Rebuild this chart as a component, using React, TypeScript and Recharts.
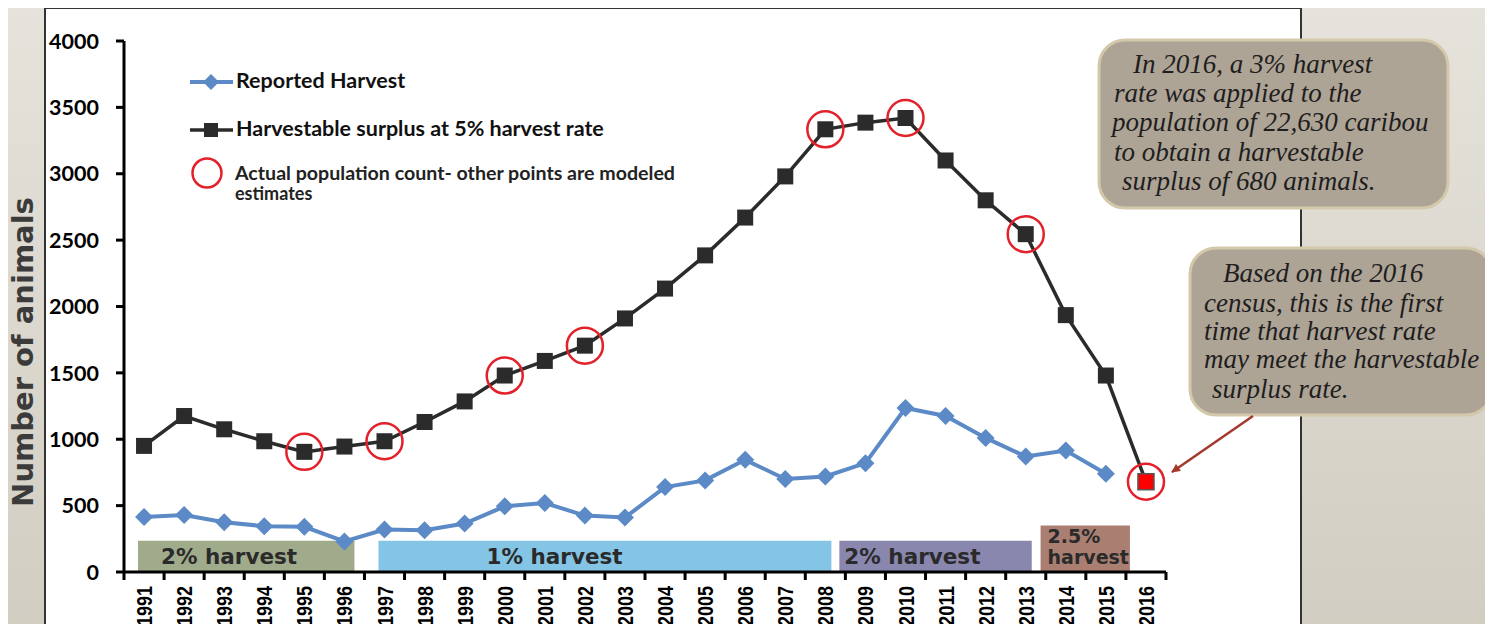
import React from "react";
import { LineChart, Line, XAxis, YAxis, ReferenceArea } from "recharts";

const years = [
  1991, 1992, 1993, 1994, 1995, 1996, 1997, 1998, 1999, 2000, 2001, 2002, 2003,
  2004, 2005, 2006, 2007, 2008, 2009, 2010, 2011, 2012, 2013, 2014, 2015, 2016,
];
const reportedHarvest = [
  415, 430, 375, 345, 340, 230, 320, 315, 365, 495, 520, 425, 410,
  640, 690, 845, 700, 720, 820, 1235, 1175, 1010, 870, 915, 740, null,
];
const harvestableSurplus = [
  950, 1175, 1075, 985, 905, 945, 985, 1130, 1285, 1480, 1590, 1705, 1910,
  2135, 2385, 2670, 2980, 3335, 3385, 3420, 3100, 2800, 2545, 1935, 1480, 680,
];
// years with an actual population count (red circles)
const censusYears = [1995, 1997, 2000, 2002, 2008, 2010, 2013, 2016];
const yTicks = [0, 500, 1000, 1500, 2000, 2500, 3000, 3500, 4000];

// harvest rate periods drawn along the bottom
const bandFrom = [1990.85, 1996.85, 2008.35, 2013.37];
const bandTo = [1996.25, 2008.15, 2013.15, 2015.6];
const bandTop = [235, 235, 235, 350];
const bandLabels = [["2% harvest"], ["1% harvest"], ["2% harvest"], ["2.5%", "harvest"]];

const BAND_COLORS = ["#a0ab8c", "#84c4e4", "#8987ae", "#aa7f72"];
const BAND_DX = [23, 108, 5, 7];
const BAND_FONT = [21.5, 21.5, 21.5, 19];

const data = years.map((year, i) => ({
  year,
  harvest: reportedHarvest[i],
  surplus: harvestableSurplus[i],
  census: censusYears.includes(year) ? harvestableSurplus[i] : null,
}));

// labels sit on whole years, tick marks between them
const xTicks = [...years.flatMap((y) => [y - 0.5, y]), years[years.length - 1] + 0.5];

const BLUE = "#5b8ac6";
const DARK = "#2b2b2b";
const RED = "#e3212b";

function XTick(props: any) {
  const { x, y, payload } = props;
  const v = payload.value;
  if (v % 1 !== 0) {
    return <line x1={x} x2={x} y1={y} y2={y + 8} stroke="#000" strokeWidth={3} />;
  }
  const tx = x + 8;
  const ty = y + 14;
  return (
    <text
      x={tx}
      y={ty}
      transform={`rotate(-90 ${tx} ${ty})`}
      textAnchor="end"
      fontFamily="'Liberation Sans', Arial, sans-serif"
      fontWeight="bold"
      fontSize={22}
      textLength={40}
      lengthAdjust="spacingAndGlyphs"
      fill="#000"
    >
      {v}
    </text>
  );
}

function DiamondDot(props: any) {
  const { cx, cy, index } = props;
  if (cx == null || cy == null) return <g key={`d${index}`} />;
  return (
    <polygon
      key={`d${index}`}
      points={`${cx},${cy - 9} ${cx + 9},${cy} ${cx},${cy + 9} ${cx - 9},${cy}`}
      fill={BLUE}
    />
  );
}

function SquareDot(props: any) {
  const { cx, cy, index, payload } = props;
  if (cx == null || cy == null) return <g key={`s${index}`} />;
  const last = payload.year === 2016;
  return (
    <rect
      key={`s${index}`}
      x={cx - 8}
      y={cy - 8}
      width={16}
      height={16}
      fill={last ? "#ff0000" : DARK}
      stroke={last ? "#555" : "none"}
      strokeWidth={1.5}
    />
  );
}

function CensusDot(props: any) {
  const { cx, cy, index } = props;
  if (cx == null || cy == null) return <g key={`c${index}`} />;
  return <circle key={`c${index}`} cx={cx} cy={cy} r={18} fill="none" stroke={RED} strokeWidth={2.5} />;
}

function BandLabel(props: any) {
  const { viewBox, lines, dx, size } = props;
  const bottom = viewBox.y + viewBox.height;
  return (
    <text
      fontFamily="'DejaVu Sans', Verdana, sans-serif"
      fontWeight="bold"
      fontSize={size}
      fill="#2a2a2a"
    >
      {lines.map((l: string, i: number) => (
        <tspan key={l} x={viewBox.x + dx} y={bottom - 8 - (lines.length - 1 - i) * 21}>
          {l}
        </tspan>
      ))}
    </text>
  );
}

const serif = "'Liberation Serif', 'Times New Roman', serif";
const legendFont = "Lato, 'Open Sans', sans-serif";

export default function App() {
  return (
    <div
      style={{
        margin: -8,
        width: 1493,
        height: 632,
        position: "relative",
        overflow: "hidden",
        background: "linear-gradient(#e6e3dc, #d1cdc1)",
      }}
    >
      <div
        style={{
          position: "absolute",
          left: 44,
          top: 7,
          width: 1258,
          height: 660,
          background: "#fff",
          border: "2px solid #333",
          boxSizing: "border-box",
        }}
      />
      <LineChart
        width={1493}
        height={632}
        data={data}
        margin={{ top: 41, right: 327, bottom: 0, left: 0 }}
        style={{ position: "absolute", left: 0, top: 0 }}
      >
        <XAxis
          dataKey="year"
          type="number"
          domain={[1990.5, 2016.5]}
          ticks={xTicks}
          interval={0}
          height={60}
          tickSize={0}
          tickMargin={0}
          tickLine={false}
          axisLine={{ stroke: "#000", strokeWidth: 3 }}
          tick={<XTick />}
        />
        <YAxis
          type="number"
          domain={[0, 4000]}
          ticks={yTicks}
          interval={0}
          width={124}
          tickSize={8}
          tickMargin={17}
          axisLine={{ stroke: "#000", strokeWidth: 3 }}
          tickLine={{ stroke: "#000", strokeWidth: 3 }}
          tick={{ fill: "#000", fontFamily: legendFont, fontWeight: "bold", fontSize: 21.5 }}
        />
        <Line
          dataKey="harvest"
          type="linear"
          stroke={BLUE}
          strokeWidth={4}
          dot={<DiamondDot />}
          activeDot={false}
          isAnimationActive={false}
        />
        <Line
          dataKey="surplus"
          type="linear"
          stroke={DARK}
          strokeWidth={3.5}
          dot={<SquareDot />}
          activeDot={false}
          isAnimationActive={false}
        />
        <Line
          dataKey="census"
          type="linear"
          stroke="none"
          dot={<CensusDot />}
          activeDot={false}
          isAnimationActive={false}
        />
        {bandLabels.map((lines, i) => (
          <ReferenceArea
            key={i}
            x1={bandFrom[i]}
            x2={bandTo[i]}
            y1={0}
            y2={bandTop[i]}
            fill={BAND_COLORS[i]}
            fillOpacity={1}
            stroke="none"
            ifOverflow="visible"
            zIndex={450}
            label={<BandLabel lines={lines} dx={BAND_DX[i]} size={BAND_FONT[i]} />}
          />
        ))}
      </LineChart>

      <svg
        width={1493}
        height={632}
        style={{ position: "absolute", left: 0, top: 0, pointerEvents: "none" }}
      >
        <defs>
          <marker id="arrow" viewBox="0 0 10 10" refX="9" refY="5" markerWidth="4" markerHeight="3.5" orient="auto">
            <path d="M0,0 L10,5 L0,10 z" fill="#a3392a" />
          </marker>
        </defs>

        <text
          transform="translate(33 352) rotate(-90)"
          textAnchor="middle"
          fontFamily="'DejaVu Sans', Verdana, sans-serif"
          fontWeight="bold"
          fontSize={29}
          fill="#3b3b3b"
        >
          Number of animals
        </text>

        {/* legend */}
        <line x1={190} x2={233} y1={82} y2={82} stroke={BLUE} strokeWidth={4} />
        <polygon points="211,74 219,82 211,90 203,82" fill={BLUE} />
        <text x={236} y={88} fontFamily={legendFont} fontWeight="bold" fontSize={21.5} fill="#111">
          Reported Harvest
        </text>
        <line x1={190} x2={233} y1={130} y2={130} stroke={DARK} strokeWidth={3.5} />
        <rect x={204} y={123} width={14} height={14} fill={DARK} />
        <text x={236} y={136} fontFamily={legendFont} fontWeight="bold" fontSize={21.5} fill="#111">
          Harvestable surplus at 5% harvest rate
        </text>
        <circle cx={207} cy={173} r={14.5} fill="none" stroke={RED} strokeWidth={2.5} />
        <text fontFamily={legendFont} fontWeight="bold" fontSize={18} fill="#222">
          <tspan x={235} y={180} textLength={440} lengthAdjust="spacingAndGlyphs">
            Actual population count- other points are modeled
          </tspan>
          <tspan x={235} y={200}>estimates</tspan>
        </text>

        {/* callouts */}
        <rect x={1099} y={40} width={349} height={168} rx={26} fill="#aea496" stroke="#d3c9aa" strokeWidth={3} />
        <text fontFamily={serif} fontStyle="italic" fontSize={27} fill="#1e1e1e">
          <tspan x={1133} y={73}>In 2016, a 3% harvest</tspan>
          <tspan x={1114} y={102}>rate was applied to the</tspan>
          <tspan x={1112} y={131}>population of 22,630 caribou</tspan>
          <tspan x={1114} y={161}>to obtain a harvestable</tspan>
          <tspan x={1122} y={190}>surplus of 680 animals.</tspan>
        </text>

        <rect x={1190} y={248} width={302} height={167} rx={26} fill="#aea496" stroke="#d3c9aa" strokeWidth={3} />
        <text fontFamily={serif} fontStyle="italic" fontSize={27} fill="#1e1e1e">
          <tspan x={1223} y={282}>Based on the 2016</tspan>
          <tspan x={1204} y={312}>census, this is the first</tspan>
          <tspan x={1204} y={340}>time that harvest rate</tspan>
          <tspan x={1204} y={368}>may meet the harvestable</tspan>
          <tspan x={1212} y={398}>surplus rate.</tspan>
        </text>
        <line x1={1253} y1={416} x2={1172} y2={472} stroke="#a3392a" strokeWidth={2.5} markerEnd="url(#arrow)" />
      </svg>
    </div>
  );
}
